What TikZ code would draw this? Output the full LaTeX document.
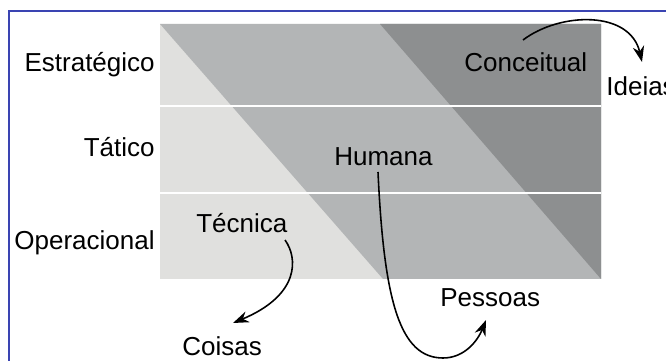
\documentclass[tikz,border=0pt]{standalone}
\usepackage{fontspec}
\setmainfont{Liberation Sans}
\usetikzlibrary{arrows.meta,calc}

\definecolor{frameblue}{HTML}{3A44B2}
\definecolor{greyA}{HTML}{E0E0DE}
\definecolor{greyB}{HTML}{B3B5B6}
\definecolor{greyC}{HTML}{8D8F90}

\tikzset{
  lbl/.style={inner sep=0pt,font=\fontsize{14.8}{18}\selectfont},
  curvearrow/.style={line width=0.9pt,-{Stealth[length=9pt,width=6.5pt]}}
}

\begin{document}
\begin{tikzpicture}[x=0.02cm,y=-0.02cm]
\useasboundingbox (0,0) rectangle (666,361);
\fill[white] (0,0) rectangle (666,361);

% frame
\draw[frameblue,line width=0.6pt] (9,400) -- (9,11) -- (700,11);

% levels
\fill[greyA] (160,24) rectangle (601,279);
\fill[greyB] (160,24) -- (601,24) -- (601,279) -- (383,279) -- cycle;
\fill[greyC] (380,24) -- (601,24) -- (601,279) -- cycle;
\draw[white,line width=1pt] (160,106) -- (601,106);
\draw[white,line width=1pt] (160,193) -- (601,193);

\node[lbl,anchor=base east] (estrategico) at (155,72) {Estratégico};
\node[lbl,anchor=base east] (tatico) at (155,157) {Tático};
\node[lbl,anchor=base east] (operacional) at (155,250) {Operacional};

\node[lbl,anchor=base west] (conceitual) at (464,72) {Conceitual};
\node[lbl,anchor=base west] (humana) at (334,166) {Humana};
\node[lbl,anchor=base west] (tecnica) at (196,233) {Técnica};

\node[lbl,anchor=base west] (ideias) at (606,96) {Ideias};
\node[lbl,anchor=base west] (pessoas) at (440,306) {Pessoas};
\node[lbl,anchor=base west] (coisas) at (182,355) {Coisas};

% arrows
\draw[curvearrow] ($(conceitual.base west)+(59,-32)$) .. controls +(37,-28) and +(-12,-52) .. ($(ideias.base west)+(36,-34)$);
\draw[curvearrow] ($(humana.base west)+(44,6)$) .. controls +(6,130) and +(-43,0) .. (443,358)
  .. controls +(22,0) and +(-8,20) .. ($(pessoas.base west)+(46,14)$);
\draw[curvearrow] ($(tecnica.base west)+(89,7)$) .. controls +(13,18) and +(67,-28) .. ($(coisas.base west)+(51,-32)$);

\end{tikzpicture}
\end{document}
